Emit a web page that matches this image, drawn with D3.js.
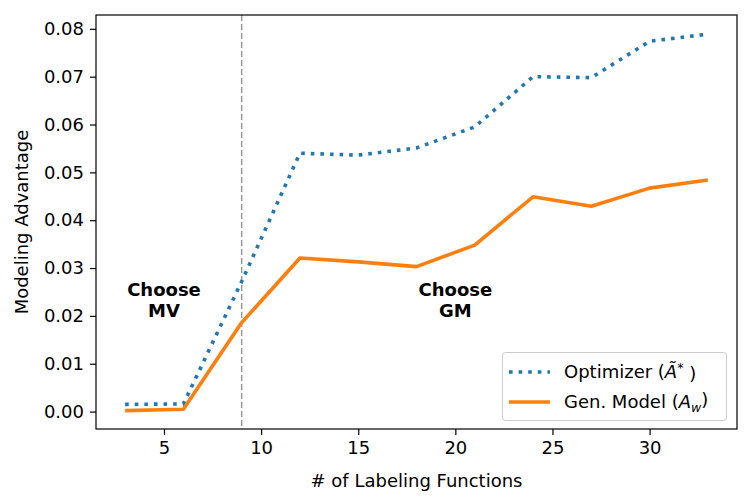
<!DOCTYPE html>
<html><head><meta charset="utf-8">
<script src="https://cdn.jsdelivr.net/npm/d3@7"></script>
<style>body{margin:0;background:#fff}svg{display:block}text{font-family:"DejaVu Sans",sans-serif}</style>
</head><body><svg id="c" width="751" height="503"></svg>
<script>
const numLFs = [3, 6, 9, 12, 15, 18, 21, 24, 27, 30, 33];
const optimizer = [0.0015, 0.0016, 0.0272, 0.0540, 0.0536, 0.0551, 0.0595, 0.0700, 0.0698, 0.0774, 0.0789];
const genModel = [0.0002, 0.0005, 0.0186, 0.0321, 0.0313, 0.0303, 0.0348, 0.0449, 0.0429, 0.0467, 0.0484];
const xTicks = [5, 10, 15, 20, 25, 30];
const yTicks = [0, 0.01, 0.02, 0.03, 0.04, 0.05, 0.06, 0.07, 0.08];
const threshold = 9;
const annotations = [{x: 5, lines: ["Choose", "MV"]}, {x: 20, lines: ["Choose", "GM"]}];
const annotY = 0.0225;

const svg = d3.select("#c");
const L = 96, R = 737, T = 15, B = 429;
const xs = d3.scaleLinear().domain([1.5, 34.5]).range([L, R]);
const ys = d3.scaleLinear().domain([-0.00364, 0.08289]).range([B, T]);
const fs = 18;

// threshold line
svg.append("line").attr("x1", xs(threshold)).attr("x2", xs(threshold))
  .attr("y1", T).attr("y2", B).attr("stroke", "#999").attr("stroke-width", 1.5)
  .attr("stroke-dasharray", "6,3");

const line = d3.line().x((d, i) => xs(numLFs[i])).y(d => ys(d));
svg.append("path").datum(optimizer).attr("d", line).attr("fill", "none")
  .attr("stroke", "#1f77b4").attr("stroke-width", 3.6).attr("stroke-dasharray", "3.6,6");
svg.append("path").datum(genModel).attr("d", line).attr("fill", "none")
  .attr("stroke", "#ff7f0e").attr("stroke-width", 3.6).attr("stroke-linejoin", "round");

// annotations
annotations.forEach(a => {
  const t = svg.append("text").attr("x", xs(a.x)).attr("y", ys(annotY)).attr("text-anchor", "middle")
    .attr("font-size", fs).attr("font-weight", "bold");
  t.append("tspan").attr("x", xs(a.x)).attr("dy", "-0.45em").text(a.lines[0]);
  t.append("tspan").attr("x", xs(a.x)).attr("dy", "1.2em").text(a.lines[1]);
});

// axes
const xAxis = d3.axisBottom(xs).tickValues(xTicks).tickSizeOuter(0).tickSize(6).tickPadding(6);
const gx = svg.append("g").attr("transform", `translate(0,${B})`).call(xAxis);
const yAxis = d3.axisLeft(ys).tickValues(yTicks).tickFormat(d3.format(".2f")).tickSizeOuter(0).tickSize(6).tickPadding(6);
const gy = svg.append("g").attr("transform", `translate(${L},0)`).call(yAxis);
[gx, gy].forEach(g => {
  g.select(".domain").remove();
  g.selectAll("line").attr("stroke", "#000").attr("stroke-width", 1.2);
  g.selectAll("text").attr("font-size", fs).attr("fill", "#000").attr("font-family", "DejaVu Sans");
});
svg.append("rect").attr("x", L).attr("y", T).attr("width", R - L).attr("height", B - T)
  .attr("fill", "none").attr("stroke", "#000").attr("stroke-width", 1.2);

svg.append("text").attr("x", (L + R) / 2).attr("y", 487).attr("text-anchor", "middle")
  .attr("font-size", fs).text("# of Labeling Functions");
svg.append("text").attr("transform", `translate(28,${(T + B) / 2}) rotate(-90)`).attr("text-anchor", "middle")
  .attr("font-size", fs).text("Modeling Advantage");

// legend
const lg = svg.append("g");
lg.append("rect").attr("x", 502.5).attr("y", 352.5).attr("width", 224).attr("height", 68).attr("rx", 3)
  .attr("fill", "#fff").attr("fill-opacity", 0.8).attr("stroke", "#ccc").attr("stroke-width", 1);
const items = [
  {color: "#1f77b4", dash: "3.6,6", y: 372},
  {color: "#ff7f0e", dash: null, y: 402}
];
items.forEach((it, i) => {
  lg.append("line").attr("x1", 509).attr("x2", 550).attr("y1", it.y).attr("y2", it.y)
    .attr("stroke", it.color).attr("stroke-width", 3.6).attr("stroke-dasharray", it.dash);
});
const t1 = lg.append("text").attr("x", 564).attr("y", 378).attr("font-size", fs);
t1.append("tspan").text("Optimizer (");
t1.append("tspan").attr("font-style", "italic").text("Ã");
t1.append("tspan").attr("dy", "-0.45em").attr("font-size", fs * 0.7).text("*");
t1.append("tspan").attr("dy", "0.45em").text(" )");
const t2 = lg.append("text").attr("x", 564).attr("y", 408).attr("font-size", fs);
t2.append("tspan").text("Gen. Model (");
t2.append("tspan").attr("font-style", "italic").text("A");
t2.append("tspan").attr("font-style", "italic").attr("dy", "0.3em").attr("font-size", fs * 0.7).text("w");
t2.append("tspan").attr("dy", "-0.3em").text(")");
</script></body></html>
